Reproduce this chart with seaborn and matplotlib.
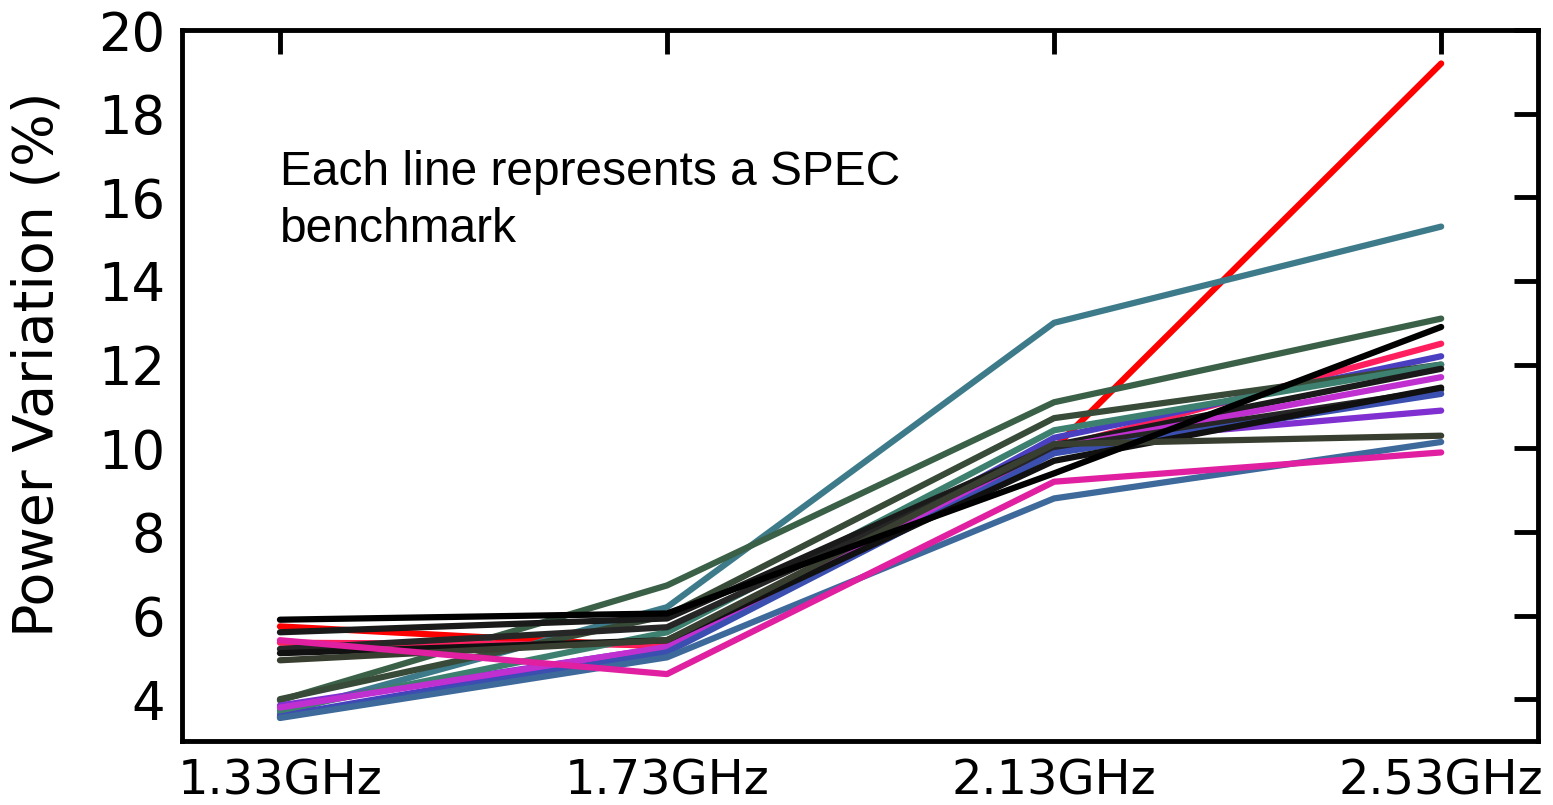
import pandas as pd
import seaborn as sns
import matplotlib.pyplot as plt

# frequencies on the x axis
freqs = ["1.33GHz", "1.73GHz", "2.13GHz", "2.53GHz"]

# power variation (%) of each SPEC benchmark
b01 = [5.74, 5.25, 10.0, 19.2]
b02 = [3.66, 6.2, 13.0, 15.3]
b03 = [3.97, 6.72, 11.1, 13.1]
b04 = [3.85, 5.24, 10.1, 10.9]
b05 = [5.35, 5.3, 10.0, 12.5]
b06 = [3.6, 5.2, 10.25, 12.2]
b07 = [4.0, 6.0, 10.72, 12.0]
b08 = [3.73, 5.6, 10.43, 12.0]
b09 = [5.6, 5.93, 10.07, 11.9]
b10 = [3.8, 5.25, 10.0, 11.7]
b11 = [5.2, 5.72, 10.0, 11.4]
b12 = [3.57, 5.12, 9.88, 11.3]
b13 = [5.1, 5.41, 9.7, 11.45]
b14 = [4.93, 5.41, 10.1, 10.3]
b15 = [3.55, 5.0, 8.8, 10.15]
b16 = [5.41, 4.6, 9.2, 9.9]
b17 = [5.9, 6.05, 9.4, 12.9]

series = [b01, b02, b03, b04, b05, b06, b07, b08, b09,
          b10, b11, b12, b13, b14, b15, b16, b17]
colors = ["#ff0000", "#3e7b8a", "#3b6048", "#8030d0", "#ff1f5f", "#4a3fc0",
          "#384a38", "#3d8070", "#1a1a1a", "#c030d0", "#262626", "#3a4fb0",
          "#111111", "#383f30", "#3d6a9a", "#e020a0", "#000000"]

rows = []
for i, vals in enumerate(series):
    for f, v in zip(freqs, vals):
        rows.append({"bench": "b%02d" % (i + 1), "freq": f, "power": v})
df = pd.DataFrame(rows)

sns.set_style("white")
plt.rcParams['font.family'] = ['DejaVu Sans']
plt.rcParams['text.color'] = 'black'
plt.rcParams['axes.labelcolor'] = 'black'
plt.rcParams['xtick.color'] = 'black'
plt.rcParams['ytick.color'] = 'black'

fig = plt.figure(figsize=(15.53, 8.05), dpi=100)
ax = fig.add_axes([0.1172, 0.0795, 0.8731, 0.8832])

sns.lineplot(data=df, x="freq", y="power", hue="bench", palette=colors,
             linewidth=4.5, legend=False, sort=False, ax=ax)

ax.set_xlim(-0.253, 3.25)
ax.set_ylim(3, 20)
ax.set_yticks(range(4, 21, 2))
ax.set_xlabel("")
ax.set_ylabel("Power Variation (%)", fontsize=40)
ax.yaxis.set_label_coords(-0.087, 0.53)

for s in ax.spines.values():
    s.set_linewidth(3.5)
    s.set_color("black")
ax.tick_params(axis="both", direction="in", length=17, width=3.5,
               top=True, right=True, color="black")
ax.tick_params(axis="y", labelsize=38, pad=12)
ax.tick_params(axis="x", labelsize=34.5, pad=12)

ax.text(0.0, 17.13, "Each line represents a SPEC\nbenchmark", fontsize=34.5,
        family="Liberation Sans", color="black", va="top", ha="left",
        linespacing=1.35)

fig.savefig("out.png", dpi=100)
